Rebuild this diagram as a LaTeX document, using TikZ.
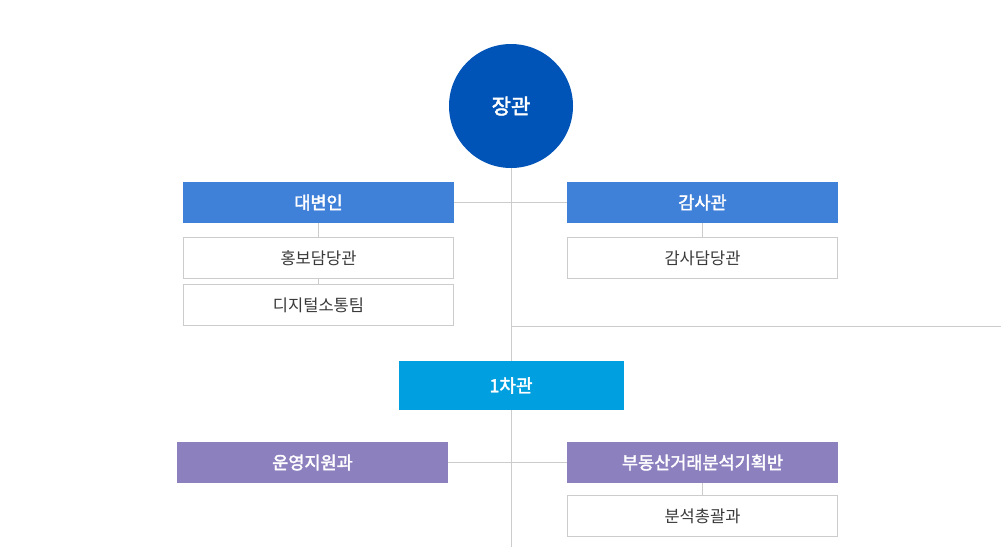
\documentclass[tikz,border=0pt]{standalone}
\usepackage{fontspec}
\setmainfont{Noto Sans CJK KR}
\newfontfamily\krh[FakeBold=2.2]{Noto Sans CJK KR}
\definecolor{circ}{HTML}{0054B8}
\definecolor{hblue}{HTML}{3F80D9}
\definecolor{sky}{HTML}{009FDF}
\definecolor{purp}{HTML}{8C80BF}
\definecolor{ln}{HTML}{CCCCCC}
\definecolor{txt}{HTML}{3A3A3A}
\tikzset{
  hdr/.style={minimum width=271pt, minimum height=41pt, inner sep=0pt, text=white, font=\fontsize{17.5}{20}\krh},
  sub/.style={draw=ln, line width=1pt, fill=white, minimum width=270pt, minimum height=41pt, inner sep=0pt, text=txt, font=\fontsize{16.5}{19}\selectfont},
  conn/.style={draw=ln, line width=1pt}
}
\begin{document}
\begin{tikzpicture}[x=1pt,y=-1pt]
\useasboundingbox (0,0) rectangle (1001,547);
\fill[white] (0,0) rectangle (1001,547);
\coordinate (bot) at (511,547);
\coordinate (rend) at (1001,326);
\coordinate (rj) at (511,326);
% nodes
\node[circle, fill=circ, minimum size=124pt, inner sep=0pt, text=white, font=\fontsize{21}{24}\krh] (min) at (511,106) {장관};
\node[hdr, fill=hblue] (spk) at (318.5,202.5) {대변인};
\node[hdr, fill=hblue] (aud) at (702.5,202.5) {감사관};
\node[sub] (pr) at (318.5,258) {홍보담당관};
\node[sub] (dig) at (318.5,305) {디지털소통팀};
\node[sub] (auds) at (702.5,258) {감사담당관};
\node[minimum width=225pt, minimum height=49pt, inner sep=0pt, fill=sky, text=white, font=\fontsize{18}{20}\krh] (vm) at (511,385.5) {1차관};
\node[hdr, fill=purp] (ops) at (312.5,462.5) {운영지원과};
\node[hdr, fill=purp] (re) at (702.5,462.5) {부동산거래분석기획반};
\node[sub] (ana) at (702.5,516) {분석총괄과};
% connectors
\draw[conn] (min.south) -- (vm.north);
\draw[conn] (vm.south) -- (bot);
\draw[conn] (rj) -- (rend);
\draw[conn] (spk.east) -- (aud.west);
\draw[conn] (ops.east) -- (re.west);
\draw[conn] (spk.south) -- (pr.north);
\draw[conn] (pr.south) -- (dig.north);
\draw[conn] (aud.south) -- (auds.north);
\draw[conn] (re.south) -- (ana.north);
\end{tikzpicture}
\end{document}
